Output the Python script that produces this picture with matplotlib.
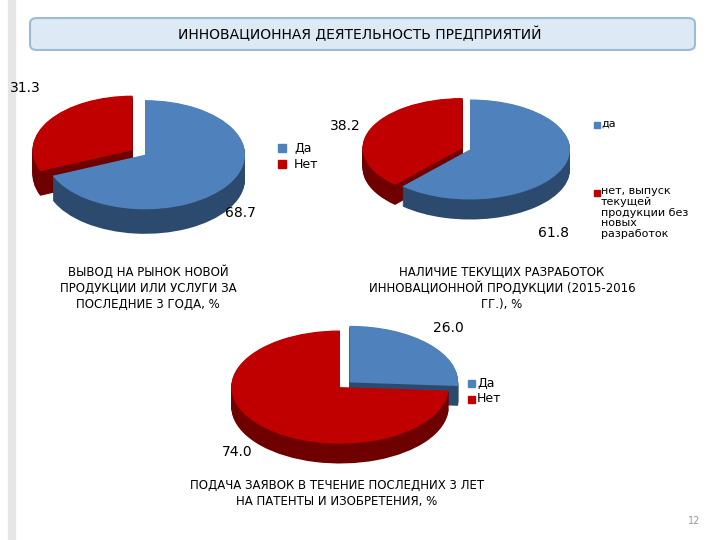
import matplotlib
matplotlib.use("Agg")
import matplotlib.pyplot as plt
from matplotlib.patches import FancyBboxPatch
import numpy as np

BLUE, BLUE_D = "#4f81bd", "#2c4a6e"
RED, RED_D = "#c00000", "#6e0000"

# chart 1: вывод на рынок новой продукции
c1_vals = [31.3, 68.7]
c1_labels = ["Нет", "Да"]
# chart 2: наличие текущих разработок
c2_vals = [38.2, 61.8]
c2_labels = ["нет, выпуск\nтекущей\nпродукции без\nновых\nразработок", "да"]
# chart 3: подача заявок на патенты
c3_vals = [26.0, 74.0]
c3_labels = ["Да", "Нет"]

fig = plt.figure(figsize=(7.2, 5.4), dpi=100)
W, H = 720, 540


def px_axes(x, y, w, h):
    return fig.add_axes([x / W, 1 - (y + h) / H, w / W, h / H])


def pie3d(ax, vals, colors, dark, explode, startangle, counterclock, depth):
    for k in np.linspace(depth, 0.01, 25):
        ax.pie(vals, colors=dark, explode=explode, startangle=startangle,
               counterclock=counterclock, center=(0, -k),
               wedgeprops=dict(linewidth=0, clip_on=False))
    ax.pie(vals, colors=colors, explode=explode, startangle=startangle,
           counterclock=counterclock, wedgeprops=dict(linewidth=0, clip_on=False))
    ax.set_aspect("auto")
    ax.set_xlim(-1.15, 1.15)
    ax.set_ylim(-1.15 - depth, 1.15)


# title box
tb = FancyBboxPatch((30 / W, 1 - 50 / H), 665 / W, 32 / H,
                    boxstyle="round,pad=0,rounding_size=0.01",
                    transform=fig.transFigure, facecolor="#dde9f5",
                    edgecolor="#9bbbd9", linewidth=1.5)
fig.patches.append(tb)
fig.text(0.5, 1 - 34 / H, "ИННОВАЦИОННАЯ ДЕЯТЕЛЬНОСТЬ ПРЕДПРИЯТИЙ",
         ha="center", va="center", fontsize=10)
fig.add_artist(plt.Line2D([12 / W, 12 / W], [0, 1], color="#e6e6e6", lw=6))

# chart 1
ax1 = px_axes(30, 92, 230, 150)
pie3d(ax1, c1_vals, [RED, BLUE], [RED_D, BLUE_D], (0.15, 0), 90, True, 0.45)
fig.text(10 / W, 1 - 88 / H, "31.3", fontsize=10, va="center")
fig.text(225 / W, 1 - 213 / H, "68.7", fontsize=10, va="center")
fig.text(148 / W, 1 - 288 / H,
         "ВЫВОД НА РЫНОК НОВОЙ\nПРОДУКЦИИ ИЛИ УСЛУГИ ЗА\nПОСЛЕДНИЕ 3 ГОДА, %",
         ha="center", va="center", fontsize=8.5, linespacing=1.3)
for i, (lab, col) in enumerate(zip(["Да", "Нет"], [BLUE, RED])):
    fig.patches.append(plt.Rectangle((278 / W, 1 - (152 + 16 * i) / H), 8 / W, 8 / H,
                                     transform=fig.transFigure, color=col))
    fig.text(294 / W, 1 - (148 + 16 * i) / H, lab, fontsize=9, va="center")

# chart 2
ax2 = px_axes(355, 92, 230, 135)
pie3d(ax2, c2_vals, [RED, BLUE], [RED_D, BLUE_D], (0.08, 0), 90, True, 0.4)
fig.text(330 / W, 1 - 126 / H, "38.2", fontsize=10, va="center")
fig.text(538 / W, 1 - 233 / H, "61.8", fontsize=10, va="center")
fig.patches.append(plt.Rectangle((594 / W, 1 - 128 / H), 6 / W, 6 / H,
                                 transform=fig.transFigure, color=BLUE))
fig.text(601 / W, 1 - 124 / H, "да", fontsize=8, va="center")
fig.patches.append(plt.Rectangle((594 / W, 1 - 196 / H), 6 / W, 6 / H,
                                 transform=fig.transFigure, color=RED))
fig.text(601 / W, 1 - 186 / H, c2_labels[0], fontsize=8, va="top", linespacing=1.1)
fig.text(502 / W, 1 - 288 / H,
         "НАЛИЧИЕ ТЕКУЩИХ РАЗРАБОТОК\nИННОВАЦИОННОЙ ПРОДУКЦИИ (2015-2016\nГГ.), %",
         ha="center", va="center", fontsize=8.5, linespacing=1.3)

# chart 3
ax3 = px_axes(215, 322, 250, 150)
pie3d(ax3, c3_vals, [BLUE, RED], [BLUE_D, RED_D], (0.12, 0), 90, False, 0.35)
fig.text(433 / W, 1 - 328 / H, "26.0", fontsize=10, va="center")
fig.text(222 / W, 1 - 452 / H, "74.0", fontsize=10, va="center")
for i, (lab, col) in enumerate(zip(c3_labels, [BLUE, RED])):
    fig.patches.append(plt.Rectangle((468 / W, 1 - (387 + 16 * i) / H), 7 / W, 7 / H,
                                     transform=fig.transFigure, color=col))
    fig.text(477 / W, 1 - (383 + 16 * i) / H, lab, fontsize=9, va="center")
fig.text(337 / W, 1 - 493 / H,
         "ПОДАЧА ЗАЯВОК В ТЕЧЕНИЕ ПОСЛЕДНИХ 3 ЛЕТ\nНА ПАТЕНТЫ И ИЗОБРЕТЕНИЯ, %",
         ha="center", va="center", fontsize=8.5, linespacing=1.3)

fig.text(700 / W, 1 - 524 / H, "12", fontsize=7, color="#999999", ha="right")
fig.savefig("out.png", dpi=100)
